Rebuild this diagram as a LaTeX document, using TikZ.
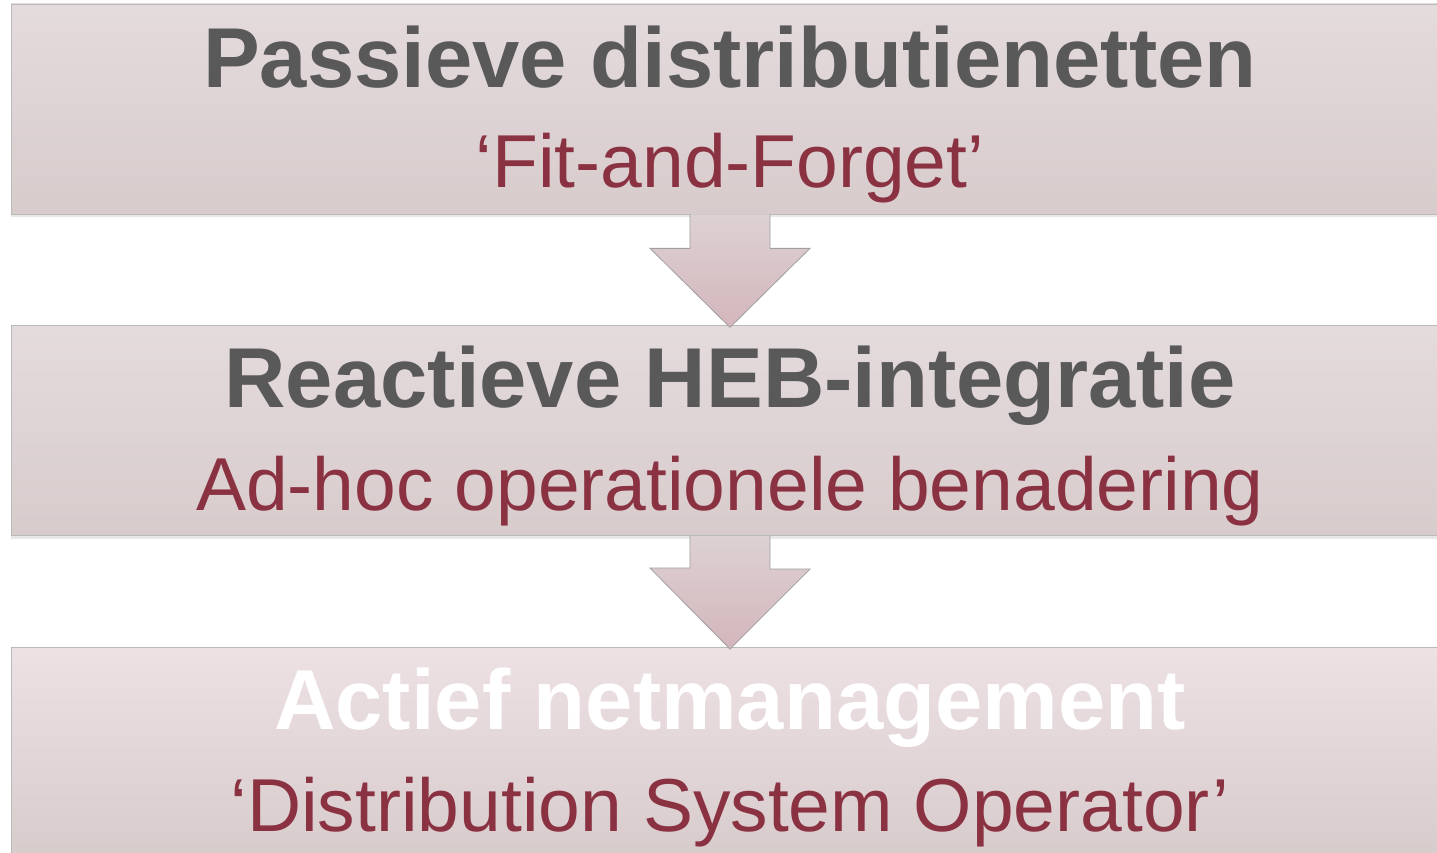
\documentclass[tikz,border=0pt]{standalone}
\usepackage{fontspec}
\setmainfont{Liberation Sans}
\usepackage{xcolor}
\usetikzlibrary{positioning,shadows}

\definecolor{stagetop}{HTML}{E4DBDD}
\definecolor{stagemid}{HTML}{DCD1D3}
\definecolor{stagebottom}{HTML}{D8CBCC}
\definecolor{activetop}{HTML}{EEE1E4}
\definecolor{activemid}{HTML}{E1CDD1}
\definecolor{titlegrey}{HTML}{595959}
\definecolor{subred}{HTML}{8A3242}
\definecolor{arrowtop}{HTML}{DDD1D3}
\definecolor{arrowbottom}{HTML}{D3B6BB}

\begin{document}
\begin{tikzpicture}[
    x=1pt, y=-1pt,
    node distance=111pt,
    stage/.style={rectangle, draw=gray!55, line width=0.7pt, minimum width=1438pt, minimum height=210pt,
        top color=stagetop, middle color=stagemid, bottom color=stagebottom,
        drop shadow={opacity=0.18, shadow xshift=0pt, shadow yshift=-3pt}},
    activestage/.style={stage, top color=activetop, middle color=activemid, bottom color=stagebottom},
    title/.style={anchor=base, inner sep=0pt, font=\fontsize{85}{100}\selectfont\bfseries, text=titlegrey},
    subtitle/.style={anchor=base, inner sep=0pt, font=\fontsize{75}{90}\selectfont, text=subred},
    flowarrow/.style={draw=gray!75, line width=0.8pt, top color=arrowtop, bottom color=arrowbottom,
        line join=miter}
]
\useasboundingbox (0,0) rectangle (1437,853);
\clip (0,0) rectangle (1437,853);

% Stage boxes
\node[stage] (passive_box) at (730,109) {};
\node[stage] (reactive_box) [below=of passive_box] {};
\node[activestage] (active_box) [below=of reactive_box] {};

% Arrows between stages
\draw[flowarrow] ([xshift=-40pt]passive_box.south) -- ++(0,34) -- ++(-40,0)
    -- ([yshift=-2pt]reactive_box.north) -- ++(80,-79) -- ++(-40,0) -- ([xshift=40pt]passive_box.south);
\draw[flowarrow] ([xshift=-40pt]reactive_box.south) -- ++(0,32) -- ++(-40,0)
    -- ([yshift=-2pt]active_box.north) -- ++(80,-80) -- ++(-40,0) -- ([xshift=40pt]reactive_box.south);

% Passive stage
\node[title] (passive_title) at ([yshift=-84pt]passive_box.north) {Passieve distributienetten};
\node[subtitle] (passive_sub) at ([yshift=-184pt]passive_box.north) {‘Fit-and-Forget’};

% Reactive stage
\node[title] (reactive_title) at ([yshift=-82pt]reactive_box.north) {Reactieve HEB-integratie};
\node[subtitle] (reactive_sub) at ([yshift=-185pt]reactive_box.north) {Ad-hoc operationele benadering};

% Active stage
\node[title, text=white] (active_title) at ([yshift=-82pt]active_box.north) {Actief netmanagement};
\node[subtitle] (active_sub) at ([yshift=-184pt]active_box.north) {‘Distribution System Operator’};

\end{tikzpicture}
\end{document}
